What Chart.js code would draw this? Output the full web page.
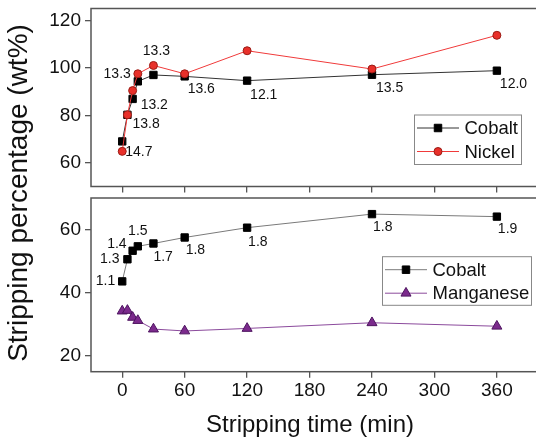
<!DOCTYPE html>
<html>
<head>
<meta charset="utf-8">
<script src="https://cdn.jsdelivr.net/npm/chart.js@4/dist/chart.umd.min.js"></script>
<style>
  body { margin: 0; background: #fff; overflow: hidden; width: 536px; height: 439px; position: relative; }
  canvas { position: absolute; left: 0; }
  #topChart { top: 0; }
  #bottomChart { top: 190px; }
  .title { position: absolute; font-family: "Liberation Sans", Arial, sans-serif; color: #111; white-space: nowrap; text-align: center; }
  #yTitle { font-size: 28px; line-height: 30px; width: 400px; height: 30px; left: -182px; top: 178px; transform: rotate(-90deg); }
  #xTitle { font-size: 24px; line-height: 24px; width: 300px; left: 160px; top: 412px; }
</style>
</head>
<body>
<canvas id="topChart" width="560" height="196"></canvas>
<canvas id="bottomChart" width="560" height="220"></canvas>
<div class="title" id="yTitle">Stripping percentage (wt%)</div>
<div class="title" id="xTitle">Stripping time (min)</div>
<script>
// stripping time (min)
var times = [0, 5, 10, 15, 30, 60, 120, 240, 360];
// upper panel
var cobaltTop = [69.0, 80.2, 86.9, 94.3, 97.0, 96.4, 94.6, 97.1, 98.8];
var nickelTop = [64.8, 80.2, 90.4, 97.5, 101.0, 97.5, 107.2, 99.5, 113.7];
var topLabels = ['14.7', '13.8', '13.2', '13.3', '13.3', '13.6', '12.1', '13.5', '12.0'];
// lower panel
var cobaltBottom = [43.6, 50.6, 53.3, 54.7, 55.6, 57.5, 60.6, 64.9, 64.1];
var manganeseBottom = [34.2, 34.4, 32.2, 31.2, 28.5, 27.9, 28.7, 30.5, 29.4];
var bottomLabels = ['1.1', '1.3', '1.4', '1.5', '1.7', '1.8', '1.8', '1.8', '1.9'];
// ticks
var xTicks = [0, 60, 120, 180, 240, 300, 360];
var yTicksTop = [60, 80, 100, 120];
var yTicksBottom = [20, 40, 60];

var FONT = '"Liberation Sans", Arial, sans-serif';

// label offsets from the cobalt point [dx, dy, align]
var topPlace = [[3, 11, 'left'], [5, 9, 'left'], [8, 6, 'left'], [-7, -7, 'right'], [3, -24, 'center'],
    [3, 13, 'left'], [3, 14, 'left'], [4, 13, 'left'], [3, 13, 'left']];
var bottomPlace = [[-7, 0, 'right'], [-8, 0, 'right'], [-6, -7, 'right'], [0, -15, 'center'], [0, 14, 'left'],
    [1, 13, 'left'], [1, 14, 'left'], [1, 13, 'left'], [1, 13, 'left']];

function toPoints(ys) {
    return times.map(function (t, i) { return { x: t, y: ys[i] }; });
}

var frame = {
    id: 'frame',
    afterDraw: function (chart) {
        var a = chart.chartArea, ctx = chart.ctx;
        ctx.save();
        ctx.strokeStyle = '#555';
        ctx.lineWidth = 1.5;
        ctx.strokeRect(a.left, a.top, a.right - a.left, a.bottom - a.top);
        ctx.restore();
    }
};

var pointLabels = {
    id: 'pointLabels',
    afterDatasetsDraw: function (chart, args, opts) {
        var meta = chart.getDatasetMeta(opts.dataset);
        var ctx = chart.ctx;
        ctx.save();
        ctx.font = '14px ' + FONT;
        ctx.fillStyle = '#111';
        ctx.textBaseline = 'middle';
        opts.texts.forEach(function (t, i) {
            var p = opts.place[i], pt = meta.data[i];
            ctx.textAlign = p[2];
            ctx.fillText(t, pt.x + p[0], pt.y + p[1]);
        });
        ctx.restore();
    }
};

function marker(ctx, style, x, y, r) {
    ctx.beginPath();
    if (style === 'rect') {
        ctx.rect(x - r * 0.72, y - r * 0.72, r * 1.44, r * 1.44);
    } else if (style === 'triangle') {
        ctx.moveTo(x, y - r);
        ctx.lineTo(x + r * 0.866, y + r * 0.5);
        ctx.lineTo(x - r * 0.866, y + r * 0.5);
        ctx.closePath();
    } else {
        ctx.arc(x, y, r, 0, Math.PI * 2);
    }
    ctx.fill();
    ctx.stroke();
}

var boxLegend = {
    id: 'boxLegend',
    afterDraw: function (chart, args, opts) {
        var ctx = chart.ctx;
        ctx.save();
        ctx.fillStyle = '#fff';
        ctx.fillRect(opts.x, opts.y, opts.w, opts.h);
        ctx.strokeStyle = '#888';
        ctx.lineWidth = 1;
        ctx.strokeRect(opts.x, opts.y, opts.w, opts.h);
        ctx.font = '18.5px ' + FONT;
        ctx.textBaseline = 'middle';
        ctx.textAlign = 'left';
        opts.items.forEach(function (idx, k) {
            var ds = chart.data.datasets[idx];
            var y = opts.y + 13 + k * 23.5;
            ctx.strokeStyle = ds.borderColor;
            ctx.lineWidth = 1;
            ctx.beginPath();
            ctx.moveTo(opts.x + 2.5, y);
            ctx.lineTo(opts.x + 44.5, y);
            ctx.stroke();
            ctx.fillStyle = ds.pointBackgroundColor;
            ctx.strokeStyle = ds.pointBorderColor;
            marker(ctx, ds.pointStyle, opts.x + 23.5, y, ds.pointRadius);
            ctx.fillStyle = '#111';
            ctx.fillText(ds.label, opts.x + 50, y + 1);
        });
        ctx.restore();
    }
};

function axes(yMin, yMax, yTicks, showX, xHeight) {
    var tickFont = { family: FONT, size: 19 };
    return {
        x: {
            type: 'linear', min: -30, max: 400,
            afterBuildTicks: function (s) { s.ticks = xTicks.map(function (v) { return { value: v }; }); },
            grid: { drawOnChartArea: false, drawTicks: true, tickLength: 6, color: '#555', lineWidth: 1.3 },
            border: { display: false },
            ticks: { display: showX, font: tickFont, color: '#111', padding: 2, maxRotation: 0 },
            afterFit: function (s) { s.height = xHeight; s.paddingLeft = 0; s.paddingRight = 0; }
        },
        y: {
            min: yMin, max: yMax,
            afterBuildTicks: function (s) { s.ticks = yTicks.map(function (v) { return { value: v }; }); },
            grid: { drawOnChartArea: false, drawTicks: true, tickLength: 6, color: '#555', lineWidth: 1.3 },
            border: { display: false },
            ticks: { font: tickFont, color: '#111', padding: 4 },
            afterFit: function (s) { s.width = 91; s.paddingTop = 0; s.paddingBottom = 0; }
        }
    };
}

window.addEventListener("load", () => {
    var topChart = new Chart(document.getElementById('topChart').getContext('2d'), {
        type: 'line',
        data: {
            datasets: [{
                label: 'Cobalt',
                data: toPoints(cobaltTop),
                borderColor: '#333',
                borderWidth: 1,
                pointStyle: 'rect',
                pointRadius: 5.2,
                pointBackgroundColor: '#000',
                pointBorderColor: '#000',
                pointBorderWidth: 1,
                order: 1
            }, {
                label: 'Nickel',
                data: toPoints(nickelTop),
                borderColor: '#f03a3a',
                borderWidth: 1,
                pointStyle: 'circle',
                pointRadius: 4,
                pointBackgroundColor: '#e8302a',
                pointBorderColor: '#9a1c16',
                pointBorderWidth: 1,
                order: 0
            }]
        },
        options: {
            responsive: false,
            animation: false,
            layout: { padding: { top: 8.5, left: 0, right: 21.5, bottom: 0 } },
            scales: axes(50, 125, yTicksTop, false, 9.5),
            plugins: {
                legend: { display: false },
                tooltip: { enabled: false },
                pointLabels: { dataset: 0, texts: topLabels, place: topPlace },
                boxLegend: { x: 414.5, y: 115, w: 107, h: 49.5, items: [0, 1] }
            }
        },
        plugins: [frame, pointLabels, boxLegend]
    });

    var bottomChart = new Chart(document.getElementById('bottomChart').getContext('2d'), {
        type: 'line',
        data: {
            datasets: [{
                label: 'Cobalt',
                data: toPoints(cobaltBottom),
                borderColor: '#7a7a7a',
                borderWidth: 1,
                pointStyle: 'rect',
                pointRadius: 5.2,
                pointBackgroundColor: '#000',
                pointBorderColor: '#000',
                pointBorderWidth: 1
            }, {
                label: 'Manganese',
                data: toPoints(manganeseBottom),
                borderColor: '#8b4a9c',
                borderWidth: 1,
                pointStyle: 'triangle',
                pointRadius: 5.8,
                pointBackgroundColor: '#7b2a8c',
                pointBorderColor: '#4e1460',
                pointBorderWidth: 1
            }]
        },
        options: {
            responsive: false,
            animation: false,
            layout: { padding: { top: 8, left: 0, right: 21.5, bottom: 0 } },
            scales: axes(15, 70, yTicksBottom, true, 38.3),
            plugins: {
                legend: { display: false },
                tooltip: { enabled: false },
                pointLabels: { dataset: 0, texts: bottomLabels, place: bottomPlace },
                boxLegend: { x: 382.5, y: 66.7, w: 149, h: 48.6, items: [0, 1] }
            }
        },
        plugins: [frame, pointLabels, boxLegend]
    });
});
</script>
</body>
</html>
